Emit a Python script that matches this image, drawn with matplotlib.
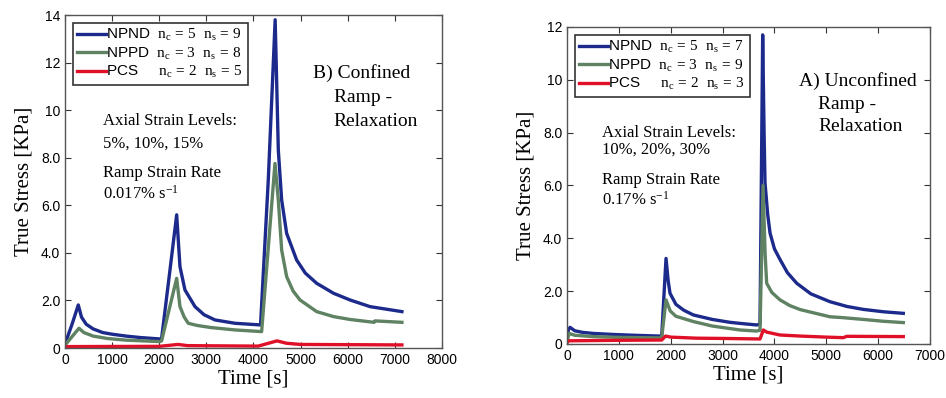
import matplotlib
matplotlib.use("Agg")
import matplotlib.pyplot as plt

plt.rcParams['font.family'] = ['Liberation Sans', 'DejaVu Sans']
plt.rcParams['mathtext.fontset'] = 'custom'
plt.rcParams['mathtext.rm'] = 'Liberation Serif'
plt.rcParams['mathtext.it'] = 'Liberation Serif'

# B) Confined ramp-relaxation (left panel)
conf_npnd_t = [0, 150, 282, 350, 450, 600, 800, 1000, 1300, 1600, 2015, 2050, 2228, 2370, 2440, 2546,
               2759, 2950, 3183, 3607, 4150, 4314, 4460, 4527, 4598, 4704, 4916, 5100, 5341,
               5700, 6048, 6472, 7150]
conf_npnd_v = [0.17, 1.0, 1.81, 1.3, 1.0, 0.8, 0.65, 0.58, 0.5, 0.44, 0.38, 0.4, 3.28, 5.6, 3.42, 2.44,
               1.74, 1.4, 1.18, 1.04, 0.97, 7.06, 13.8, 8.32, 6.22, 4.82, 3.7, 3.15, 2.72,
               2.3, 2.02, 1.74, 1.53]
conf_nppd_t = [0, 297, 400, 600, 900, 1300, 2015, 2050, 2370, 2440, 2530, 2617, 2800, 3100, 3607,
               4173, 4456, 4527, 4598, 4704, 4840, 4987, 5341, 5700, 6048, 6560, 6580, 7150]
conf_nppd_v = [0.12, 0.83, 0.65, 0.5, 0.4, 0.33, 0.27, 0.3, 2.93, 1.74, 1.3, 1.04, 0.95, 0.86, 0.76,
               0.69, 7.76, 6.22, 4.12, 3.0, 2.4, 2.02, 1.53, 1.32, 1.2, 1.08, 1.14, 1.08]
conf_pcs_t = [0, 2000, 2400, 2600, 4100, 4500, 4700, 5000, 7150]
conf_pcs_v = [0.06, 0.07, 0.15, 0.1, 0.08, 0.3, 0.2, 0.15, 0.13]

# A) Unconfined ramp-relaxation (right panel)
unc_npnd_t = [0, 25, 58, 150, 300, 507, 900, 1300, 1793, 1826, 1909, 1950, 1986, 2100, 2250, 2435,
              2800, 3143, 3336, 3657, 3722, 3773, 3800, 3818, 3870, 3915, 4000, 4107, 4250, 4429,
              4700, 5071, 5400, 5713, 6100, 6485]
unc_npnd_v = [0.1, 0.53, 0.63, 0.5, 0.44, 0.4, 0.36, 0.33, 0.3, 0.32, 3.24, 2.4, 1.92, 1.5, 1.28, 1.1,
              0.93, 0.82, 0.78, 0.72, 0.75, 11.7, 8.0, 6.1, 4.9, 4.2, 3.6, 3.2, 2.7, 2.3,
              1.9, 1.6, 1.42, 1.31, 1.22, 1.16]
unc_nppd_t = [0, 40, 150, 500, 1000, 1793, 1826, 1909, 1990, 2100, 2435, 2800, 3336, 3657, 3722, 3780,
              3820, 3850, 3950, 4107, 4300, 4500, 5071, 5300, 5713, 6100, 6485]
unc_nppd_v = [0.1, 0.4, 0.33, 0.28, 0.25, 0.23, 0.25, 1.67, 1.25, 1.05, 0.85, 0.68, 0.53, 0.49, 0.52, 6.0,
              3.4, 2.3, 1.95, 1.67, 1.45, 1.3, 1.03, 1.0, 0.93, 0.86, 0.81]
unc_pcs_t = [0, 30, 1000, 1826, 1900, 2000, 2500, 3000, 3722, 3786, 3850, 4107, 4500, 5000, 5328, 5393, 6485]
unc_pcs_v = [0.05, 0.12, 0.14, 0.15, 0.3, 0.26, 0.22, 0.21, 0.19, 0.53, 0.45, 0.34, 0.3, 0.26, 0.24, 0.29, 0.28]

conf_labels = [r'NPND  $\mathrm{n_c\,=\,5\ \ n_s\,=\,9}$',
               r'NPPD  $\mathrm{n_c\,=\,3\ \ n_s\,=\,8}$',
               r'PCS     $\mathrm{n_c\,=\,2\ \ n_s\,=\,5}$']
unc_labels = [r'NPND  $\mathrm{n_c\,=\,5\ \ n_s\,=\,7}$',
              r'NPPD  $\mathrm{n_c\,=\,3\ \ n_s\,=\,9}$',
              r'PCS     $\mathrm{n_c\,=\,2\ \ n_s\,=\,3}$']

colors = ['#1c2a8c', '#5e8262', '#e01028']
serif = ['Liberation Serif', 'DejaVu Serif']

fig = plt.figure(figsize=(9.46, 3.98), dpi=100)
ax1 = fig.add_axes([0.0687, 0.1256, 0.3985, 0.8367])
ax2 = fig.add_axes([0.5994, 0.1357, 0.3837, 0.7965])


def draw_panel(ax, series, labels, xmax, ymax, yticks, yticklabels):
    for (t, v), lab, c in zip(series, labels, colors):
        ax.plot(t, v, color=c, lw=2.4, label=lab)
    ax.set_xlim(0, xmax)
    ax.set_ylim(0, ymax)
    ax.set_xticks(range(0, xmax + 1, 1000))
    ax.set_yticks(yticks)
    ax.set_yticklabels(yticklabels)
    ax.tick_params(direction='in', top=True, right=True, labelsize=10, length=4, color='#333333')
    for s in ax.spines.values():
        s.set_color('#555555')
        s.set_linewidth(1.0)
    ax.set_xlabel('Time [s]', family=serif, fontsize=15, labelpad=2)
    ax.set_ylabel('True Stress [KPa]', family=serif, fontsize=15, labelpad=5)
    leg = ax.legend(loc='upper left', fontsize=11, handlelength=1.9, handletextpad=0.0,
                    labelspacing=0.15, borderpad=0.3, fancybox=False, framealpha=1,
                    edgecolor='#333333', borderaxespad=0.5)
    leg.get_frame().set_linewidth(1.2)


draw_panel(ax1, [(conf_npnd_t, conf_npnd_v), (conf_nppd_t, conf_nppd_v), (conf_pcs_t, conf_pcs_v)],
           conf_labels, 8000, 14, [0, 2, 4, 6, 8, 10, 12, 14],
           ['0', '2.0', '4.0', '6.0', '8.0', '10', '12', '14'])
draw_panel(ax2, [(unc_npnd_t, unc_npnd_v), (unc_nppd_t, unc_nppd_v), (unc_pcs_t, unc_pcs_v)],
           unc_labels, 7000, 12, [0, 2, 4, 6, 8, 10, 12],
           ['0', '2.0', '4.0', '6.0', '8.0', '10', '12'])

tkw = dict(family=serif, fontsize=12, va='center', ha='left')
ax1.text(806, 9.54, 'Axial Strain Levels:', **tkw)
ax1.text(806, 8.6, '5%, 10%, 15%', **tkw)
ax1.text(806, 7.35, 'Ramp Strain Rate', **tkw)
ax1.text(806, 6.5, r'0.017% s$^{\mathrm{-1}}$', **tkw)
bkw = dict(family=serif, fontsize=14, va='center', ha='left')
ax1.text(5270, 11.55, 'B) Confined', **bkw)
ax1.text(5700, 10.55, 'Ramp -', **bkw)
ax1.text(5700, 9.54, 'Relaxation', **bkw)

ax2.text(669, 7.98, 'Axial Strain Levels:', **tkw)
ax2.text(669, 7.34, '10%, 20%, 30%', **tkw)
ax2.text(669, 6.2, 'Ramp Strain Rate', **tkw)
ax2.text(669, 5.45, r'0.17% s$^{\mathrm{-1}}$', **tkw)
ax2.text(4480, 9.97, 'A) Unconfined', **bkw)
ax2.text(4840, 9.08, 'Ramp -', **bkw)
ax2.text(4840, 8.23, 'Relaxation', **bkw)

fig.savefig('out.png', dpi=100)
